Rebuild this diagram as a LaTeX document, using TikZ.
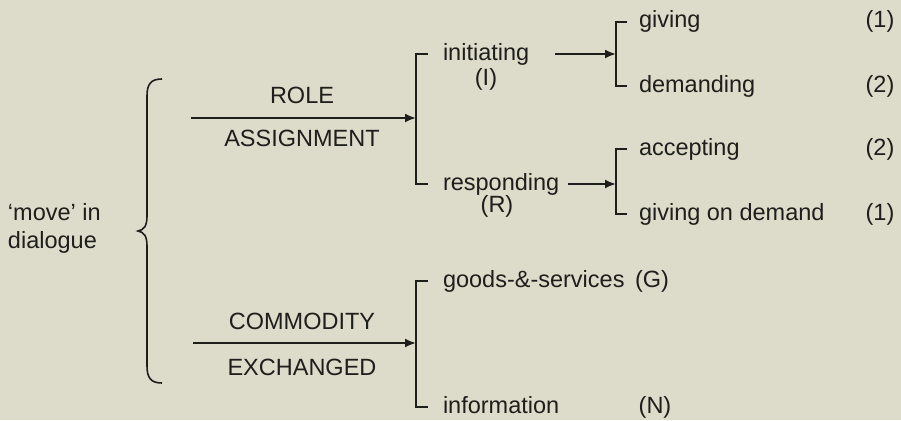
\documentclass[tikz,border=0pt]{standalone}
\usepackage{fontspec}
\setmainfont{Liberation Sans}
\usetikzlibrary{arrows.meta,calc}
\definecolor{paper}{RGB}{221,220,202}
\definecolor{ink}{RGB}{30,30,28}

\begin{document}
\begin{tikzpicture}[x=1pt,y=-1pt,line width=2pt,draw=ink,
  lbl/.style={font=\fontsize{23.5}{28}\selectfont,text=ink,inner sep=0pt},
  arr/.style={-{Latex[length=11pt,width=9pt]}}]
\fill[paper] (0,0) rectangle (901,420);
\useasboundingbox (0,0) rectangle (901,420);
\begin{scope}[every node/.style=lbl]
\node[anchor=base west] (move) at (7,220) {‘move’ in};
\node[anchor=base west] (dial) at (7,248) {dialogue};
\node[anchor=base] (role) at (302,103) {ROLE};
\node[anchor=base] (assign) at (302,146) {ASSIGNMENT};
\node[anchor=base] (commod) at (302,329) {COMMODITY};
\node[anchor=base] (exch) at (302,375) {EXCHANGED};
\node[anchor=base west] (init) at (442,60) {initiating};
\node[anchor=base] (initI) at (486,85) {(I)};
\node[anchor=base west] (resp) at (442,190) {responding};
\node[anchor=base] (respR) at (497,212) {(R)};
\node[anchor=base west] (give) at (638,28) {giving};
\node[anchor=base west] (dem) at (638,92) {demanding};
\node[anchor=base west] (acc) at (638,155) {accepting};
\node[anchor=base west] (gdem) at (638,220) {giving on demand};
\node[anchor=base] (n1) at (880,28) {(1)};
\node[anchor=base] (n2) at (880,92) {(2)};
\node[anchor=base] (n3) at (880,155) {(2)};
\node[anchor=base] (n4) at (880,220) {(1)};
\node[anchor=base west] (goods) at (442,287) {goods-\&-services};
\node[anchor=base] (goodsG) at (652,287) {(G)};
\node[anchor=base west] (info) at (442,413) {information};
\node[anchor=base] (infoN) at (655,413) {(N)};
\end{scope}
\draw[line width=1.6pt] (162,79) .. controls (151,79) and (147,84) .. (147,96)
      -- (147,216) .. controls (147,226) and (144,230) .. (138,231)
      .. controls (144,232) and (147,236) .. (147,246)
      -- (147,366) .. controls (147,378) and (151,383) .. (162,383);
\coordinate (k1) at ($(init.base west)+(-26pt,6pt)$);
\coordinate (k2) at ($(give.base west)+(-22pt,6pt)$);
\coordinate (k3) at ($(acc.base west)+(-22pt,6pt)$);
\coordinate (k4) at ($(goods.base west)+(-26pt,6pt)$);
\draw ($(init.base west)+(-14pt,6pt)$) -- (k1) |- ($(resp.base west)+(-14pt,6pt)$);
\draw ($(give.base west)+(-11pt,6pt)$) -- (k2) |- ($(dem.base west)+(-11pt,6pt)$);
\draw ($(acc.base west)+(-11pt,6pt)$) -- (k3) |- ($(gdem.base west)+(-11pt,6pt)$);
\draw ($(goods.base west)+(-14pt,6pt)$) -- (k4) |- ($(info.base west)+(-14pt,6pt)$);
\coordinate (rs) at (191,118);
\coordinate (cs) at (193,343);
\coordinate (is) at (555,54);
\coordinate (ps) at (568,184);
\draw[arr] (rs) -- (rs -| k1);
\draw[arr] (cs) -- (cs -| k4);
\draw[arr] (is) -- (is -| k2);
\draw[arr] (ps) -- (ps -| k3);
\end{tikzpicture}
\end{document}
